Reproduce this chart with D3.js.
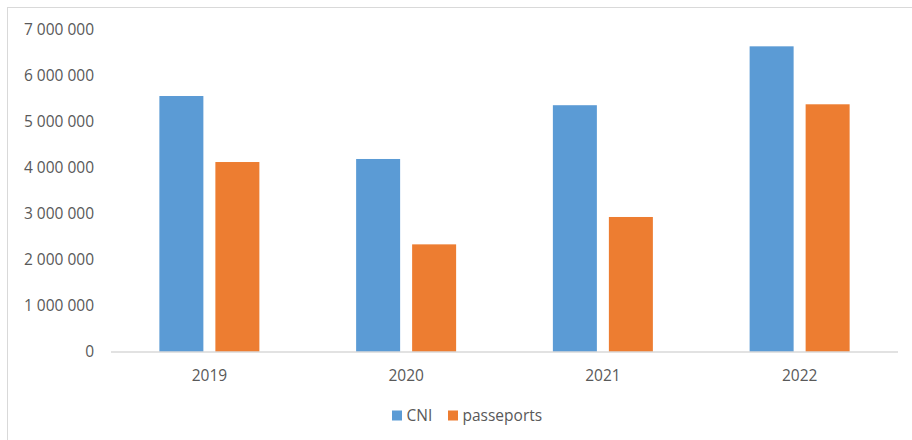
<!DOCTYPE html>
<html>
<head>
<meta charset="utf-8">
<script src="https://cdn.jsdelivr.net/npm/d3@7"></script>
<style>
  html, body { margin: 0; padding: 0; background: #fff; }
  svg { display: block; }
  text { font-family: "Open Sans", "Liberation Sans", sans-serif; fill: #595959; }
</style>
</head>
<body>
<svg id="chart" width="912" height="440"></svg>
<script>
const categories = ["2019", "2020", "2021", "2022"];
const seriesNames = ["CNI", "passeports"];
const cniValues = [5565000, 4196000, 5365000, 6645000];
const passeportsValues = [4130000, 2340000, 2935000, 5385000];
const yTicks = [0, 1000000, 2000000, 3000000, 4000000, 5000000, 6000000, 7000000];
const colors = ["#5b9bd5", "#ed7d31"];

const svg = d3.select("#chart");
const W = 912, H = 440;

// outer frame
svg.append("rect").attr("x", 7.5).attr("y", 7.5).attr("width", W).attr("height", H)
  .attr("fill", "none").attr("stroke", "#d9d9d9").attr("stroke-width", 1);

const x0 = 111, x1 = 898, yBase = 352, yTop = 30;
const x = d3.scaleBand().domain(categories).range([x0, x1]).padding(0);
const y = d3.scaleLinear().domain([0, 7000000]).range([yBase, yTop]);

const fmt = v => d3.format(",")(v).replace(/,/g, " ");

// y axis labels
const yAxis = d3.axisLeft(y).tickValues(yTicks).tickFormat(fmt).tickSize(0).tickPadding(0);
const gy = svg.append("g").attr("transform", "translate(94,0)").call(yAxis);
gy.select(".domain").remove();
gy.selectAll("text").attr("font-size", "15.5px").style("font-family", '"Open Sans", sans-serif').attr("fill", "#595959");

// bars
const series = [cniValues, passeportsValues];
const barW = 44, offset = 28;
series.forEach((vals, si) => {
  svg.append("g").selectAll("rect").data(categories).join("rect")
    .attr("x", (c) => x(c) + x.bandwidth() / 2 + (si === 0 ? -offset : offset) - barW / 2)
    .attr("y", (c, i) => y(vals[i]))
    .attr("width", barW)
    .attr("height", (c, i) => yBase - y(vals[i]))
    .attr("fill", colors[si]);
});

// x axis
const xAxis = d3.axisBottom(x).tickSize(0).tickPadding(0);
const gx = svg.append("g").attr("transform", `translate(0,${yBase})`).call(xAxis);
gx.select(".domain").attr("stroke", "#d9d9d9").attr("stroke-width", 1.5).attr("d", `M${x0},0H${x1}`);
gx.selectAll("text").attr("font-size", "15.5px").attr("dy", "0").attr("y", 29).style("font-family", '"Open Sans", sans-serif').attr("fill", "#595959");

// legend
const legend = svg.append("g");
const legendX = [392, 448];
seriesNames.forEach((n, i) => {
  legend.append("rect").attr("x", legendX[i]).attr("y", 410.5).attr("width", 10).attr("height", 10).attr("fill", colors[i]);
  legend.append("text").attr("x", legendX[i] + 14.5).attr("y", 421).attr("font-size", "15.5px").text(n);
});
</script>
</body>
</html>
